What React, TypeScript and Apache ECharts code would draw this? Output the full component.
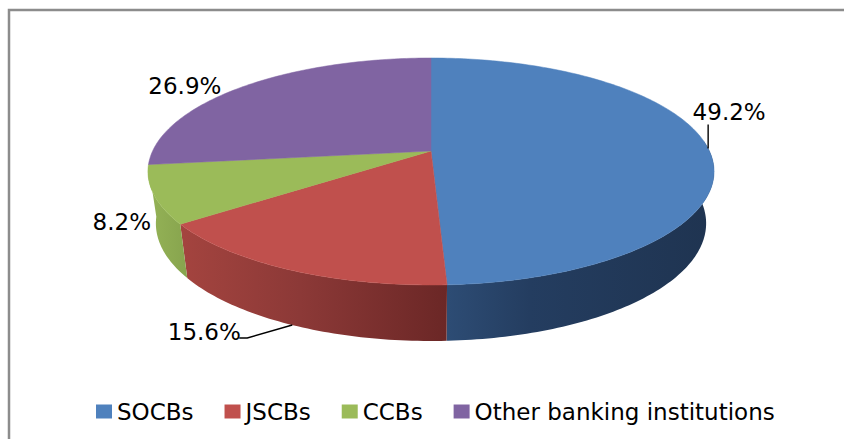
import React, { useEffect, useRef } from "react";
import * as echarts from "echarts";

// Share of banking-system assets by institution group, in percent
const categories = ["SOCBs", "JSCBs", "CCBs", "Other banking institutions"];
const shares = [49.2, 15.6, 8.2, 26.9];
const shareLabels = ["49.2%", "15.6%", "8.2%", "26.9%"];
const faceColors = ["#4f81bd", "#c0504d", "#9bbb59", "#8064a2"];

// Rim gradients, one per slice: [x of stop, colour]
const rimGradients: [number, string][][] = [
  [[448, "#2d4c74"], [530, "#243d60"], [708, "#1f3451"]],
  [[180, "#a4443f"], [300, "#8c3937"], [447, "#6b2726"]],
  [[150, "#94b256"], [190, "#86a34d"]],
  [[150, "#7d638f"], [190, "#7d638f"]],
];

// Projection of the tilted disc
const CX = 431;
const CY = 151;
const AX = 278.4;
const AY = 109.8;
const PERSPECTIVE = 0.1806;
const DEPTH_SCALE = 0.972;
const RIM_VISIBLE_FROM = 85;
const RIM_VISIBLE_TO = 262.8;

// Label placement relative to the slice's mid-rim point
const labelOffsets = [
  { dx: 21, dy: -36, fromBottom: false },
  { dx: -88, dy: 7, fromBottom: true },
  { dx: -32, dy: 27, fromBottom: false },
  { dx: -60, dy: 0, fromBottom: false },
];
const leaderOffsets: ([number, number] | null)[][] = [
  [[0, -24], [0, 0]],
  [[-53, 13], [-45, 13], [0, 0]],
  [],
  [],
];

const FONT = '"DejaVu Sans", sans-serif';
const total = shares.reduce((a, b) => a + b, 0);

function topPoint(deg: number): [number, number] {
  const t = (deg * Math.PI) / 180;
  const u = Math.sin(t);
  const v = -Math.cos(t);
  const w = 1 - PERSPECTIVE * v;
  return [CX + (AX * u) / w, CY + (AY * v) / w];
}

function bottomPoint(deg: number): [number, number] {
  const t = (deg * Math.PI) / 180;
  const v = -Math.cos(t);
  const [x, y] = topPoint(deg);
  return [CX + DEPTH_SCALE * (x - CX), y + 51 + 5 * v];
}

function arcAngles(from: number, to: number): number[] {
  const out: number[] = [];
  for (let d = from; d < to; d += 1) out.push(d);
  out.push(to);
  return out;
}

function sliceItem(index: number) {
  const before = shares.slice(0, index).reduce((a, b) => a + b, 0);
  const start = (before / total) * 360;
  const end = ((before + shares[index]) / total) * 360;
  const children: any[] = [];

  const rimFrom = Math.max(start, RIM_VISIBLE_FROM);
  const rimTo = Math.min(end, RIM_VISIBLE_TO);
  if (rimTo > rimFrom) {
    const angles = arcAngles(rimFrom, rimTo);
    const stops = rimGradients[index];
    const x0 = stops[0][0];
    const x1 = stops[stops.length - 1][0];
    children.push({
      type: "polygon",
      shape: {
        points: [
          ...angles.map(topPoint),
          ...angles.slice().reverse().map(bottomPoint),
        ],
      },
      style: {
        fill: new echarts.graphic.LinearGradient(
          x0, 0, x1, 0,
          stops.map(([x, color]) => ({ offset: (x - x0) / (x1 - x0), color })),
          true,
        ),
      },
    });
  }

  const fill = faceColors[index];
  children.push({
    type: "polygon",
    shape: { points: [[CX, CY], ...arcAngles(start, end).map(topPoint)] },
    style: { fill, stroke: fill, lineWidth: 0.5 },
  });

  const mid = (start + end) / 2;
  const place = labelOffsets[index];
  const [ax, ay] = place.fromBottom ? bottomPoint(mid) : topPoint(mid);
  const leader = leaderOffsets[index] as [number, number][];
  if (leader.length) {
    children.push({
      type: "polyline",
      shape: { points: leader.map(([dx, dy]) => [ax + dx, ay + dy]) },
      style: { stroke: "#000", lineWidth: 1.4, fill: "none" },
    });
  }
  children.push({
    type: "text",
    x: ax + place.dx,
    y: ay + place.dy,
    style: {
      text: shareLabels[index],
      font: `23px ${FONT}`,
      fill: "#000",
      align: "center",
      verticalAlign: "middle",
    },
  });
  return { type: "group", children };
}

export default function App() {
  const ref = useRef<HTMLDivElement>(null);

  useEffect(() => {
    document.body.style.margin = "0";
    const chart = echarts.init(ref.current!, null, { renderer: "svg" });
    chart.setOption({
      animation: false,
      backgroundColor: "#ffffff",
      legend: {
        left: 91,
        top: 395,
        itemWidth: 16,
        itemHeight: 14,
        itemGap: 31,
        icon: "rect",
        data: categories,
        textStyle: { fontFamily: FONT, fontSize: 23, color: "#000" },
      },
      graphic: [
        {
          type: "polyline",
          shape: { points: [[9, 439], [9, 10], [844, 10]] },
          style: { stroke: "#8c8c8c", lineWidth: 2.5, fill: "none" },
        },
      ],
      series: categories.map((name, index) => ({
        type: "custom",
        name,
        coordinateSystem: "none",
        silent: true,
        itemStyle: { color: faceColors[index] },
        data: [shares[index]],
        renderItem: () => sliceItem(index),
      })),
    });
    return () => chart.dispose();
  }, []);

  return <div ref={ref} style={{ width: 844, height: 439 }} />;
}
